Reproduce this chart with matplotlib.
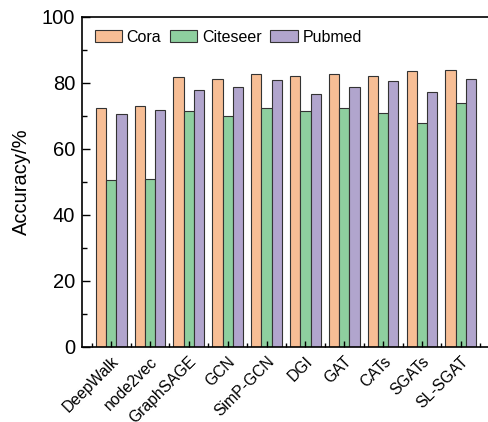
import numpy as np
import matplotlib.pyplot as plt
from matplotlib.ticker import MultipleLocator
from matplotlib.transforms import ScaledTranslation

plt.rcParams['font.family'] = ['Liberation Sans', 'DejaVu Sans']

methods = ['DeepWalk', 'node2vec', 'GraphSAGE', 'GCN', 'SimP-GCN',
           'DGI', 'GAT', 'CATs', 'SGATs', 'SL-SGAT']
cora = [72.3, 73.0, 81.8, 81.2, 82.6, 82.1, 82.7, 82.1, 83.6, 83.9]
citeseer = [50.7, 51.0, 71.6, 70.0, 72.4, 71.5, 72.4, 70.9, 67.9, 73.9]
pubmed = [70.6, 71.9, 77.9, 78.8, 80.9, 76.5, 78.8, 80.7, 77.3, 81.2]

series = [('Cora', cora, '#F7BE95'),
          ('Citeseer', citeseer, '#8ECF9F'),
          ('Pubmed', pubmed, '#B1A5CD')]

fig = plt.figure(figsize=(4.88, 4.22), dpi=100)
ax = fig.add_axes([0.168, 0.178, 0.836, 0.782])

x = np.arange(len(methods))
w = 0.264
for i, (name, vals, col) in enumerate(series):
    ax.bar(x + (i - 1) * w, vals, width=w, color=col, edgecolor='#333333',
           linewidth=0.8, label=name)

ax.set_xlim(-0.75, 9.75)
ax.set_ylim(0, 100)
ax.set_xticks(x)
ax.set_xticklabels(methods, rotation=45, ha='right', va='top',
                   rotation_mode='anchor', fontsize=11.3)
# nudge the slanted labels to the right
shift = ScaledTranslation(10 / 100, 0, fig.dpi_scale_trans)
for lab in ax.get_xticklabels():
    lab.set_transform(lab.get_transform() + shift)

ax.xaxis.set_minor_locator(MultipleLocator(1, offset=0.5))
ax.yaxis.set_major_locator(MultipleLocator(20))
ax.yaxis.set_minor_locator(MultipleLocator(10))
ax.tick_params(axis='both', which='both', direction='in', width=1.0,
               top=False, right=False)
ax.tick_params(axis='y', which='major', length=5.5, labelsize=14.5, pad=5)
ax.tick_params(axis='y', which='minor', length=3.5)
ax.tick_params(axis='x', which='major', length=4, pad=5)
ax.tick_params(axis='x', which='minor', length=3)
for s in ax.spines.values():
    s.set_linewidth(1.2)

ax.set_ylabel('Accuracy/%', fontsize=14.5, labelpad=8)
ax.legend(loc='upper left', ncol=3, frameon=False, fontsize=11.5,
          handlelength=1.7, handleheight=0.75, handletextpad=0.3,
          columnspacing=0.55, borderaxespad=0.45, borderpad=0.35)

fig.savefig('out.png', dpi=100)
